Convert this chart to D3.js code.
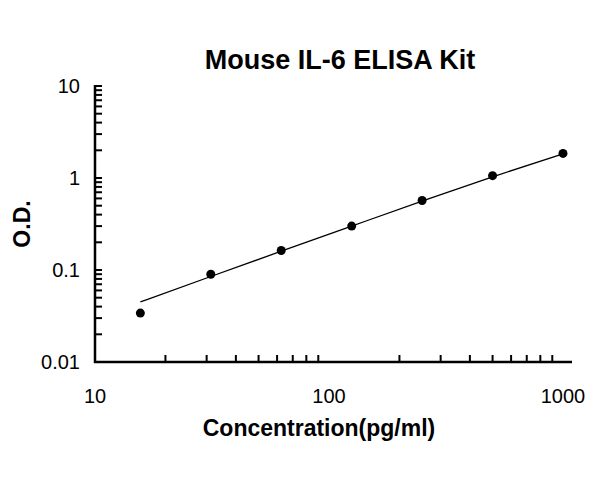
<!DOCTYPE html>
<html>
<head>
<meta charset="utf-8">
<script src="https://cdn.jsdelivr.net/npm/d3@7"></script>
<style>
  body { margin: 0; background: #fff; }
  text { font-family: "Liberation Sans", Arial, sans-serif; }
</style>
</head>
<body>
<svg id="chart" width="600" height="485"></svg>
<script>
// standard curve data
const concentration = [15.625, 31.25, 62.5, 125, 250, 500, 1000];
const od = [0.034, 0.09, 0.163, 0.30, 0.57, 1.06, 1.85];
const fitOd = [0.045, 0.085, 0.16, 0.30, 0.56, 1.03, 1.83];
const xTicks = [10, 100, 1000];
const yTicks = [0.01, 0.1, 1, 10];

const svg = d3.select("#chart");
const x = d3.scaleLog().domain([10, 1000]).range([95, 563]);
const y = d3.scaleLog().domain([0.01, 10]).range([362, 86]);

// minor ticks
const yMinor = [];
[0.01, 0.1, 1].forEach(b => { for (let i = 1; i < 10; i++) yMinor.push(b * i); });
yMinor.push(10);
const xMinor = [];
[10, 100].forEach(b => { for (let i = 2; i < 10; i++) xMinor.push(b * i); });

svg.selectAll(".ytick").data(yMinor).enter().append("line")
    .attr("x1", 95).attr("x2", 102)
    .attr("y1", d => y(d)).attr("y2", d => y(d))
    .attr("stroke", "#000").attr("stroke-width", 2);

svg.selectAll(".xtick").data(xMinor).enter().append("line")
    .attr("x1", d => x(d)).attr("x2", d => x(d))
    .attr("y1", 362).attr("y2", 355)
    .attr("stroke", "#000").attr("stroke-width", 2);

// axis lines
svg.append("line").attr("x1", 95).attr("x2", 95).attr("y1", 85).attr("y2", 363)
    .attr("stroke", "#000").attr("stroke-width", 2.5);
svg.append("line").attr("x1", 94).attr("x2", 572).attr("y1", 362).attr("y2", 362)
    .attr("stroke", "#000").attr("stroke-width", 2.5);

// tick labels
svg.selectAll(".ylab").data(yTicks).enter().append("text")
    .attr("x", 80).attr("y", d => y(d) + 7)
    .attr("text-anchor", "end").attr("font-size", 20)
    .text(d => d);
svg.selectAll(".xlab").data(xTicks).enter().append("text")
    .attr("x", d => x(d)).attr("y", 403)
    .attr("text-anchor", "middle").attr("font-size", 20)
    .text(d => d);

// fit line
const line = d3.line().curve(d3.curveMonotoneX)
    .x((d, i) => x(concentration[i])).y(d => y(d));
svg.append("path").datum(fitOd).attr("d", line)
    .attr("fill", "none").attr("stroke", "#000").attr("stroke-width", 1.3);

// points
svg.selectAll(".pt").data(od).enter().append("circle")
    .attr("cx", (d, i) => x(concentration[i])).attr("cy", d => y(d))
    .attr("r", 4.5).attr("fill", "#000");

// titles
svg.append("text").attr("x", 340).attr("y", 69).attr("text-anchor", "middle")
    .attr("font-size", 27).attr("font-weight", "bold").text("Mouse IL-6 ELISA Kit");
svg.append("text").attr("x", 319).attr("y", 436).attr("text-anchor", "middle")
    .attr("font-size", 23).attr("font-weight", "bold").text("Concentration(pg/ml)");
svg.append("text").attr("transform", "translate(30,224) rotate(-90)")
    .attr("text-anchor", "middle").attr("font-size", 23).attr("font-weight", "bold").text("O.D.");
</script>
</body>
</html>
